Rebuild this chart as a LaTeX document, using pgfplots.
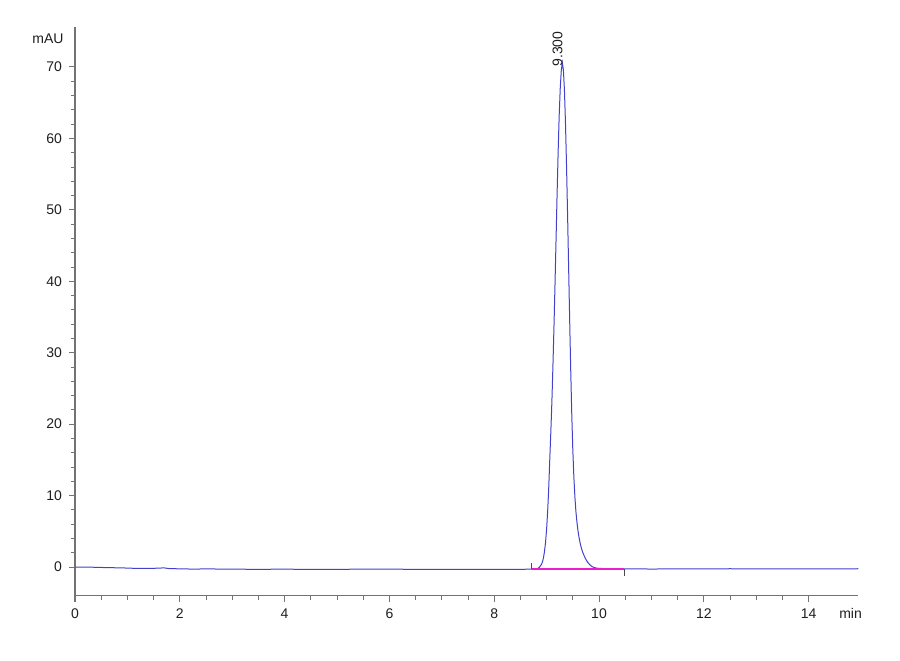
\documentclass[border=0pt]{standalone}
\usepackage{fontspec}
\setmainfont{Liberation Sans}
\usepackage{pgfplots}
\pgfplotsset{compat=1.18}
\definecolor{sig}{RGB}{65,65,205}
\definecolor{bline}{RGB}{235,30,205}
\definecolor{axc}{RGB}{115,115,115}
\definecolor{txt}{RGB}{30,30,30}

\begin{document}
\begin{tikzpicture}
\begin{axis}[
    at={(0,0)}, anchor=south west,
    scale only axis,
    width=391.7pt, height=284.3pt,
    xmin=0, xmax=14.95,
    ymin=-4, ymax=75.6,
    axis x line*=bottom,
    axis y line*=left,
    axis line style={-, axc, line width=0.6pt},
    xtick={0,2,4,6,8,10,12,14},
    ytick={0,10,20,30,40,50,60,70},
    minor x tick num=3,
    minor y tick num=4,
    tick align=outside,
    major tick length=3pt,
    minor tick length=2pt,
    tick style={axc, line width=0.5pt},
    ticklabel style={font=\fontsize{7}{8}\selectfont, text=txt},
    /pgf/number format/assume math mode=true,
    clip=false,
]
% signal
\addplot[sig, line width=0.5pt] coordinates {
    (0,0.0) (0.3,-0.02) (0.6,-0.08) (0.9,-0.12) (1.2,-0.2) (1.5,-0.18)
    (1.7,-0.12) (1.8,-0.22) (2.2,-0.28) (2.6,-0.27) (3.0,-0.3) (3.5,-0.32)
    (4,-0.3) (4.5,-0.33) (5,-0.32) (5.5,-0.3) (6,-0.3) (6.5,-0.32)
    (7,-0.32) (7.5,-0.33) (8,-0.34) (8.4,-0.33) (8.7,-0.3) (8.78,-0.28)
    (8.82,-0.25) (8.86,-0.05) (8.90,0.35) (8.92,0.7) (8.94,1.3) (8.96,2.2)
    (8.98,3.5) (9.00,5.3) (9.02,7.8) (9.04,11.0) (9.06,15.0) (9.08,18.8)
    (9.10,23.0) (9.12,28.0) (9.14,33.5) (9.16,39.5) (9.18,45.8) (9.20,52.2)
    (9.22,58.1) (9.24,63.2) (9.26,67.0) (9.28,69.5) (9.30,70.6)
    (9.32,69.6) (9.34,66.8) (9.36,62.2) (9.38,56.2) (9.40,49.4) (9.42,42.0)
    (9.44,34.6) (9.46,27.6) (9.48,21.4) (9.50,16.4) (9.52,12.6) (9.54,9.8)
    (9.56,7.7) (9.58,6.2) (9.60,5.0) (9.62,4.1) (9.64,3.35) (9.66,2.75)
    (9.68,2.25) (9.70,1.85) (9.74,1.2) (9.78,0.7) (9.82,0.35) (9.86,0.1)
    (9.90,-0.05) (9.95,-0.15) (10.0,-0.2) (10.5,-0.25) (11,-0.28) (11.5,-0.26)
    (12,-0.25) (12.5,-0.24) (13,-0.25) (13.5,-0.26) (14,-0.25) (14.5,-0.25)
    (14.95,-0.24)
};
% integration baseline
\addplot[bline, line width=0.6pt] coordinates {(8.716,-0.28) (10.477,-0.28)};
% integration start / end markers
\addplot[txt!80, line width=0.5pt] coordinates {(8.716,-0.3) (8.716,0.55)};
\addplot[txt!80, line width=0.5pt] coordinates {(10.477,-0.3) (10.477,-1.2)};
% peak label
\node[rotate=90, anchor=base west, inner sep=0pt, font=\fontsize{7}{8}\selectfont, text=txt]
    at (axis cs:9.30,70.0) {9.300};
% unit labels
\node[anchor=east, inner sep=0pt, font=\fontsize{7}{8}\selectfont, text=txt]
    at (axis cs:0,74) [xshift=-5.5pt] {mAU};
\node[anchor=base, inner sep=0pt, font=\fontsize{7}{8}\selectfont, text=txt]
    at (axis cs:14.8,-4) [yshift=-11.5pt] {min};
\end{axis}
\path (-37.5pt,-32.2pt) rectangle (412.5pt,297.8pt);
\end{tikzpicture}
\end{document}
